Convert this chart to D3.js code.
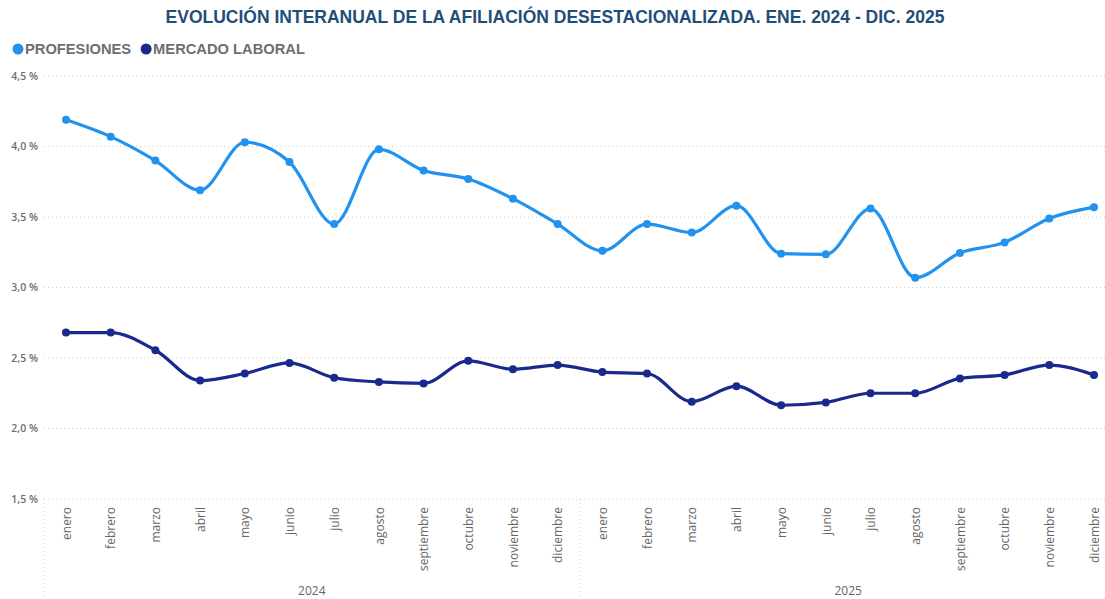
<!DOCTYPE html>
<html><head><meta charset="utf-8">
<script src="https://cdn.jsdelivr.net/npm/d3@7"></script>
<style>body{margin:0;background:#fff;}svg{display:block;}</style>
</head><body>
<svg id="chart" width="1105" height="599"></svg>
<script>
const months = ["enero","febrero","marzo","abril","mayo","junio","julio","agosto","septiembre","octubre","noviembre","diciembre"];
const years = ["2024","2025"];
const profesiones = [4.19,4.07,3.90,3.69,4.03,3.89,3.45,3.98,3.83,3.77,3.63,3.45, 3.26,3.45,3.39,3.58,3.24,3.235,3.56,3.07,3.245,3.32,3.49,3.57];
const mercado = [2.68,2.68,2.555,2.34,2.39,2.465,2.36,2.33,2.32,2.48,2.42,2.45, 2.40,2.39,2.19,2.30,2.165,2.185,2.25,2.25,2.355,2.38,2.45,2.38];
const yTicks = [1.5,2.0,2.5,3.0,3.5,4.0,4.5];
const seriesNames = ["PROFESIONES","MERCADO LABORAL"];
const seriesColors = ["#2192ee","#1a2a8c"];

const svg = d3.select("#chart");
const keys = [];
years.forEach(y => months.forEach(m => keys.push(y + "-" + m)));

const x = d3.scalePoint().domain(keys).range([66, 1094]);
const step = x.step();
const y = d3.scaleLinear().domain([1.5, 4.5]).range([499, 76]);

// title
svg.append("text").attr("x", 555).attr("y", 23).attr("text-anchor", "middle")
  .attr("font-family", "Liberation Sans, Arial, sans-serif").attr("font-weight", "bold")
  .attr("font-size", 17.5).attr("fill", "#1f4e79")
  .text("EVOLUCIÓN INTERANUAL DE LA AFILIACIÓN DESESTACIONALIZADA. ENE. 2024 - DIC. 2025");

// legend
const leg = svg.append("g");
let lx = 18;
seriesNames.forEach((n, i) => {
  leg.append("circle").attr("cx", lx).attr("cy", 49).attr("r", 5.5).attr("fill", seriesColors[i]);
  const t = leg.append("text").attr("x", lx + 7).attr("y", 54)
    .attr("font-family", "Liberation Sans, Arial, sans-serif").attr("font-weight", "bold")
    .attr("font-size", 14.7).attr("fill", "#6e6e6e").text(n);
  lx += 7 + t.node().getComputedTextLength() + 15;
});

// gridlines
const grid = svg.append("g");
yTicks.forEach(v => {
  grid.append("line").attr("x1", 44).attr("x2", 1105).attr("y1", y(v)).attr("y2", y(v))
    .attr("stroke", "#cfcfcf").attr("stroke-width", 1).attr("stroke-dasharray", "1,3");
});

// y axis labels
const yAxis = d3.axisLeft(y).tickValues(yTicks).tickSize(0).tickPadding(0)
  .tickFormat(d => d3.format(".1f")(d).replace(".", ",") + " %");
const ya = svg.append("g").attr("transform", "translate(38,0)").call(yAxis);
ya.select(".domain").remove();
ya.selectAll("text").attr("font-family", "Open Sans, sans-serif").attr("font-weight", 600)
  .attr("font-size", 10.5).attr("fill", "#6e6e6e").attr("dy", "0.32em");

// x axis separators
const x0 = x(keys[0]) - step / 2;
const xmid = x(keys[11]) + step / 2;
const x1 = x(keys[23]) + step / 2;
[x0, xmid].forEach(xx => {
  svg.append("line").attr("x1", xx).attr("x2", xx).attr("y1", 499).attr("y2", 599)
    .attr("stroke", "#cfcfcf").attr("stroke-dasharray", "1,3");
});

// month labels
const xAxis = d3.axisBottom(x).tickSize(0).tickPadding(0).tickFormat(d => d.split("-")[1]);
const xa = svg.append("g").attr("transform", "translate(0,507)").call(xAxis);
xa.select(".domain").remove();
xa.selectAll("text").attr("transform", "rotate(-90)").attr("text-anchor", "end")
  .attr("x", 0).attr("y", 0).attr("dy", "0.35em")
  .attr("font-family", "Open Sans, sans-serif").attr("font-size", 12).attr("fill", "#666");

// year labels
years.forEach((yr, i) => {
  const cx = i === 0 ? (x0 + xmid) / 2 : (xmid + x1) / 2;
  svg.append("text").attr("x", cx).attr("y", 595).attr("text-anchor", "middle")
    .attr("font-family", "Open Sans, sans-serif").attr("font-size", 12).attr("fill", "#666").text(yr);
});

// lines
const line = d3.line().x((d, i) => x(keys[i])).y(d => y(d)).curve(d3.curveMonotoneX);
[profesiones, mercado].forEach((s, si) => {
  svg.append("path").datum(s).attr("d", line).attr("fill", "none")
    .attr("stroke", seriesColors[si]).attr("stroke-width", 3.2).attr("stroke-linejoin", "round");
  svg.append("g").selectAll("circle").data(s).join("circle")
    .attr("cx", (d, i) => x(keys[i])).attr("cy", d => y(d)).attr("r", 4)
    .attr("fill", seriesColors[si]);
});
</script>
</body></html>
